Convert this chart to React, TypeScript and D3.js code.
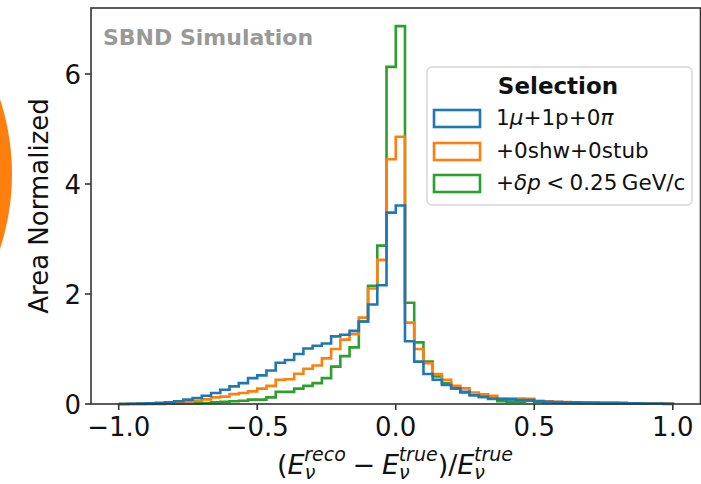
import React from "react";
import * as d3 from "d3";

// histogram: 60 bins from -1 to 1, area normalised
const BIN_LO = -1;
const BIN_HI = 1;
const N_BINS = 60;

const muPiValues = [
  0, 0.005, 0.01, 0.015, 0.02, 0.03, 0.05, 0.08, 0.11, 0.15,
  0.2, 0.26, 0.32, 0.38, 0.47, 0.52, 0.61, 0.75, 0.8, 0.91,
  1.01, 1.06, 1.1, 1.23, 1.26, 1.33, 1.5, 1.81, 2.16, 3.48,
  3.61, 1.14, 0.77, 0.545, 0.44, 0.345, 0.285, 0.22, 0.16, 0.13,
  0.1, 0.09, 0.085, 0.07, 0.07, 0.05, 0.04, 0.035, 0.03, 0.03,
  0.025, 0.025, 0.02, 0.02, 0.02, 0.015, 0.015, 0.01, 0.01, 0.005,
];

const showerValues = [
  0, 0, 0.003, 0.005, 0.008, 0.012, 0.02, 0.04, 0.06, 0.085,
  0.12, 0.135, 0.18, 0.2, 0.23, 0.28, 0.33, 0.44, 0.45, 0.55,
  0.64, 0.7, 0.83, 1.0, 1.17, 1.27, 1.57, 2.1, 2.62, 4.45,
  4.86, 1.48, 1.0, 0.74, 0.545, 0.44, 0.33, 0.285, 0.21, 0.175,
  0.15, 0.1, 0.1, 0.1, 0.095, 0.06, 0.05, 0.04, 0.035, 0.03,
  0.025, 0.02, 0.02, 0.02, 0.015, 0.015, 0.01, 0.01, 0.005, 0.005,
];

const deltaPValues = [
  0, 0, 0, 0, 0.002, 0.004, 0.006, 0.008, 0.012, 0.018,
  0.03, 0.04, 0.05, 0.06, 0.08, 0.08, 0.12, 0.22, 0.22, 0.28,
  0.33, 0.38, 0.47, 0.68, 0.87, 1.03, 1.5, 2.15, 2.88, 6.13,
  6.87, 1.84, 1.12, 0.77, 0.5, 0.38, 0.285, 0.21, 0.16, 0.13,
  0.09, 0.05, 0.04, 0.04, 0.06, 0.04, 0.03, 0.025, 0.02, 0.02,
  0.015, 0.015, 0.01, 0.01, 0.01, 0.008, 0.006, 0.005, 0.004, 0.003,
];

const xTicks = [-1.0, -0.5, 0.0, 0.5, 1.0];
const yTicks = [0, 2, 4, 6];

const COLORS = { blue: "#1f77b4", orange: "#ff7f0e", green: "#2ca02c" };
const FONT = "DejaVu Sans";

const x = d3.scaleLinear().domain([-1.1, 1.1]).range([91, 700.5]);
const y = d3.scaleLinear().domain([0, 7.2]).range([404, 8]);

const edges = d3.range(N_BINS + 1).map((i) => BIN_LO + ((BIN_HI - BIN_LO) * i) / N_BINS);

function stepPath(values: number[]) {
  const pts: [number, number][] = [[x(edges[0]), y(0)]];
  values.forEach((v, i) => {
    pts.push([x(edges[i]), y(v)]);
    pts.push([x(edges[i + 1]), y(v)]);
  });
  pts.push([x(edges[N_BINS]), y(0)]);
  return d3.line()(pts) || "";
}

const fmt = (v: number) => d3.format(".1f")(v).replace("-", "\u2212");

export default function App() {
  const series = [
    { values: deltaPValues, color: COLORS.green },
    { values: showerValues, color: COLORS.orange },
    { values: muPiValues, color: COLORS.blue },
  ];

  const legendRows = [
    { color: COLORS.blue, y: 118.5 },
    { color: COLORS.orange, y: 151.5 },
    { color: COLORS.green, y: 183.5 },
  ];

  return (
    <svg
      width={701}
      height={484}
      style={{ position: "absolute", left: 0, top: 0, background: "white" }}
      fontFamily={FONT}
    >
      {/* orange blob cut at the left edge */}
      <circle cx={-228} cy={174} r={240} fill="#ff7f0e" />

      {/* histograms */}
      {series.map((s, i) => (
        <path
          key={i}
          d={stepPath(s.values)}
          fill="none"
          stroke={s.color}
          strokeWidth={2.6}
          strokeLinejoin="miter"
        />
      ))}

      {/* frame */}
      <rect x={91} y={8} width={609.5} height={396} fill="none" stroke="#333" strokeWidth={1.6} />

      {/* x ticks */}
      {xTicks.map((t) => (
        <g key={t}>
          <line x1={x(t)} x2={x(t)} y1={404} y2={410} stroke="#333" strokeWidth={1.6} />
          <text x={x(t)} y={436} fontSize={26} textAnchor="middle" fill="#111">
            {fmt(t)}
          </text>
        </g>
      ))}

      {/* y ticks */}
      {yTicks.map((t) => (
        <g key={t}>
          <line x1={85} x2={91} y1={y(t)} y2={y(t)} stroke="#333" strokeWidth={1.6} />
          <text x={81} y={y(t) + 9.5} fontSize={26} textAnchor="end" fill="#111">
            {t}
          </text>
        </g>
      ))}

      {/* axis labels */}
      <text transform="translate(48,206) rotate(-90)" fontSize={26} textAnchor="middle" fill="#111">
        Area Normalized
      </text>
      <text x={395} y={474} fontSize={27} textAnchor="middle" fill="#111">
        (<tspan fontStyle="italic">E</tspan>
        <tspan fontStyle="italic" fontSize={19} dy={5}>ν</tspan>
        <tspan fontStyle="italic" fontSize={19} dx={-11} dy={-18}>reco</tspan>
        <tspan dy={13}>{"\u2005\u2212\u2005"}</tspan>
        <tspan fontStyle="italic">E</tspan>
        <tspan fontStyle="italic" fontSize={19} dy={5}>ν</tspan>
        <tspan fontStyle="italic" fontSize={19} dx={-11} dy={-18}>true</tspan>
        <tspan dy={13}>)/</tspan>
        <tspan fontStyle="italic">E</tspan>
        <tspan fontStyle="italic" fontSize={19} dy={5}>ν</tspan>
        <tspan fontStyle="italic" fontSize={19} dx={-11} dy={-18}>true</tspan>
      </text>

      {/* watermark */}
      <text x={103} y={45} fontSize={22} fontWeight="bold" fill="#999999">
        SBND Simulation
      </text>

      {/* legend */}
      <rect x={427} y={67} width={265} height={138} rx={5} fill="white" fillOpacity={0.8} stroke="#d6d6d6" strokeWidth={1.5} />
      <text x={558} y={94} fontSize={23} fontWeight="bold" textAnchor="middle" fill="#111">
        Selection
      </text>
      {legendRows.map((r) => (
        <rect key={r.color} x={434} y={r.y - 8.5} width={46} height={17} fill="none" stroke={r.color} strokeWidth={2.6} />
      ))}
      <text x={496} y={125} fontSize={21.5} fill="#111">
        1<tspan fontStyle="italic">μ</tspan>+1p+0<tspan fontStyle="italic">π</tspan>
      </text>
      <text x={496} y={158} fontSize={21.5} fill="#111">
        +0shw+0stub
      </text>
      <text x={496} y={190} fontSize={21.5} fill="#111">
        +<tspan fontStyle="italic">δp</tspan>{"\u2005<\u20050.25\u2009GeV/c"}
      </text>
    </svg>
  );
}
